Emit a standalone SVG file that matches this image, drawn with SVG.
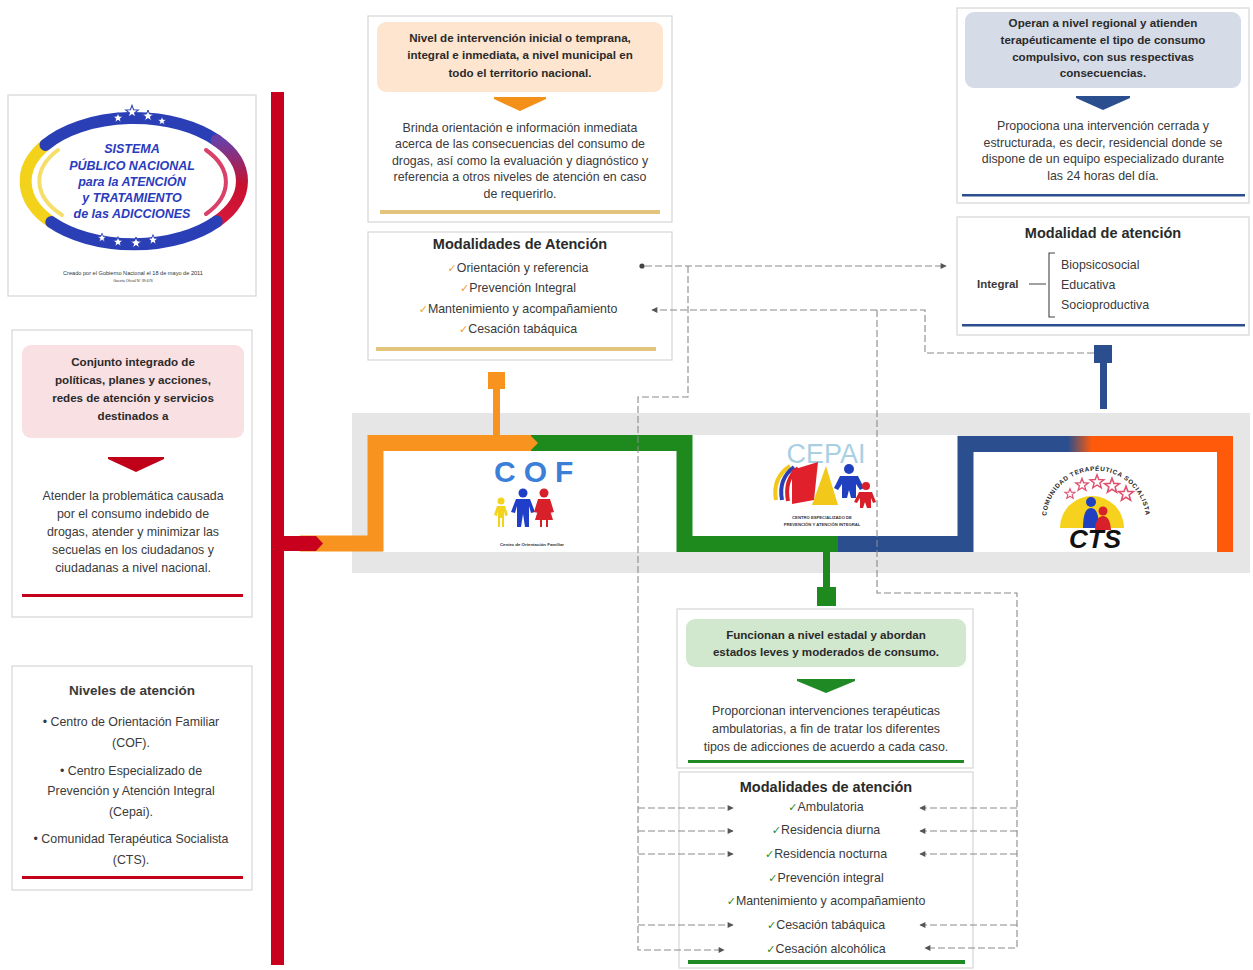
<svg xmlns="http://www.w3.org/2000/svg" width="1253" height="970" viewBox="0 0 1253 970">
<defs>
<style>
.card{fill:#fff;stroke:#d6d6d6;stroke-width:1.2}
.t{font-family:"Liberation Sans",Arial,sans-serif;fill:#3a3a3a;text-anchor:middle}
.ts{text-anchor:start}
.h{font-size:11.6px;font-weight:bold;fill:#2a2a2a}
.b{font-size:12.4px}
.ti{font-size:14.5px;font-weight:bold;fill:#2a2a2a}
.it{font-size:12.4px}
.ck{font-family:"DejaVu Sans",sans-serif;font-size:11px}
.pipe{fill:none;stroke-width:16;stroke-linejoin:miter;stroke-linecap:butt}
.dash{fill:none;stroke:#8a8a8a;stroke-width:1.1;stroke-dasharray:7 3}
.logo{font-family:"Liberation Sans",Arial,sans-serif;font-weight:bold;font-style:italic;font-size:12.5px;fill:#2a3bbd;text-anchor:middle}
.tiny{font-family:"Liberation Sans",Arial,sans-serif;fill:#333;text-anchor:middle}
</style>
<marker id="arr" viewBox="0 0 10 10" refX="9" refY="5" markerWidth="7" markerHeight="6" orient="auto" markerUnits="userSpaceOnUse">
<path d="M0,0 L10,5 L0,10 Z" fill="#555"/>
</marker>
<linearGradient id="gr" x1="0" y1="0" x2="0" y2="1">
<stop offset="0" stop-color="#6a3fa5"/>
<stop offset="0.55" stop-color="#c8102e"/>
<stop offset="1" stop-color="#d4183c"/>
</linearGradient>
<linearGradient id="bo" x1="0" y1="0" x2="1" y2="0">
<stop offset="0" stop-color="#2B4F8E"/>
<stop offset="1" stop-color="#FF5A0A"/>
</linearGradient>
<path id="star" d="M0,-6 L1.47,-2.02 L5.71,-1.85 L2.38,0.77 L3.53,4.85 L0,2.5 L-3.53,4.85 L-2.38,0.77 L-5.71,-1.85 L-1.47,-2.02 Z"/>
<path id="arc" d="M 1046.4 527 A 50 50 0 1 1 1145.6 527"/>
</defs>
<rect width="1253" height="970" fill="#ffffff"/>

<!-- Logo -->
<g id="logo-sistema">
<rect class="card" x="8" y="95" width="248" height="201"/>
<g fill="none" stroke-linecap="round">
<path d="M 51.3 222.1 A 108 63 0 0 1 45.5 144.9" stroke="#F2D21B" stroke-width="12"/>
<path d="M 45.5 144.9 A 108 63 0 0 1 216.7 140.5" stroke="#2a3fb5" stroke-width="12"/>
<path d="M 216.7 140.5 A 108 63 0 0 1 216.7 221.5" stroke="url(#gr)" stroke-width="12"/>
<path d="M 216.7 221.5 A 108 63 0 0 1 51.3 222.1" stroke="#2a3fb5" stroke-width="12"/>
<path d="M 62 215 A 94 52 0 0 1 58 150" stroke="#F5DF6A" stroke-width="4"/>
<path d="M 206 150 A 94 52 0 0 1 206 214" stroke="#d9406a" stroke-width="4"/>
</g>
<g fill="#ffffff" stroke="#2a3fb5" stroke-width="1">
<use href="#star" transform="translate(118,118) scale(0.9)"/>
<use href="#star" transform="translate(132,112) scale(1.1)"/>
<use href="#star" transform="translate(148,116)"/>
<use href="#star" transform="translate(162,121) scale(0.8)"/>
<use href="#star" transform="translate(102,238) scale(0.8)"/>
<use href="#star" transform="translate(118,242) scale(0.9)"/>
<use href="#star" transform="translate(136,243)"/>
<use href="#star" transform="translate(153,240) scale(0.9)"/>
</g>
<text class="logo" x="132" y="153">SISTEMA</text>
<text class="logo" x="132" y="170">PÚBLICO NACIONAL</text>
<text class="logo" x="132" y="186">para la ATENCIÓN</text>
<text class="logo" x="132" y="202">y TRATAMIENTO</text>
<text class="logo" x="132" y="218">de las ADICCIONES</text>
<text class="tiny" x="133" y="275" font-size="5.6">Creado por el Gobierno Nacional el 18 de mayo de 2011</text>
<text class="tiny" x="133" y="282" font-size="3.6">Gaceta Oficial N° 39.676</text>
</g>

<!-- Backbone -->
<g id="backbone">
<rect x="271" y="92" width="13" height="873" fill="#C8001E"/>
</g>

<!-- Definition -->
<g id="definicion">
<rect class="card" x="12" y="330" width="240" height="287"/>
<rect x="22" y="345" width="222" height="93" rx="9" fill="#F8E0E3"/>
<text class="t h" x="133" y="366">Conjunto integrado de</text>
<text class="t h" x="133" y="384">políticas, planes y acciones,</text>
<text class="t h" x="133" y="402">redes de atención y servicios</text>
<text class="t h" x="133" y="420">destinados a</text>
<polygon points="108,457 164,457 164,459 136,472 108,459" fill="#C00018"/>
<text class="t b" x="133" y="500">Atender la problemática causada</text>
<text class="t b" x="133" y="518">por el consumo indebido de</text>
<text class="t b" x="133" y="536">drogas, atender y minimizar las</text>
<text class="t b" x="133" y="554">secuelas en los ciudadanos y</text>
<text class="t b" x="133" y="572">ciudadanas a nivel nacional.</text>
<rect x="22" y="594" width="221" height="3" fill="#C4001A"/>
</g>

<!-- Niveles -->
<g id="niveles">
<rect class="card" x="12" y="666" width="240" height="224"/>
<text class="t" x="132" y="695" font-size="13.5" font-weight="bold" fill="#2a2a2a">Niveles de atención</text>
<text class="t b" x="131" y="726">• Centro de Orientación Familiar</text>
<text class="t b" x="131" y="747">(COF).</text>
<text class="t b" x="131" y="775">• Centro Especializado de</text>
<text class="t b" x="131" y="795">Prevención y Atención Integral</text>
<text class="t b" x="131" y="816">(Cepai).</text>
<text class="t b" x="131" y="843">• Comunidad Terapéutica Socialista</text>
<text class="t b" x="131" y="864">(CTS).</text>
<rect x="22" y="876" width="221" height="3" fill="#C4001A"/>
</g>

<!-- COF description -->
<g id="cof-descripcion">
<rect class="card" x="368" y="16" width="304" height="206"/>
<rect x="377" y="22" width="286" height="70" rx="9" fill="#FDE5CF"/>
<text class="t h" x="520" y="42">Nivel de intervención inicial o temprana,</text>
<text class="t h" x="520" y="59">integral e inmediata, a nivel municipal en</text>
<text class="t h" x="520" y="77">todo el territorio nacional.</text>
<polygon points="494,97 546,97 546,99 520,111 494,99" fill="#F39019"/>
<text class="t b" x="520" y="132">Brinda orientación e información inmediata</text>
<text class="t b" x="520" y="148">acerca de las consecuencias del consumo de</text>
<text class="t b" x="520" y="165">drogas, así como la evaluación y diagnóstico y</text>
<text class="t b" x="520" y="181">referencia a otros niveles de atención en caso</text>
<text class="t b" x="520" y="198">de requerirlo.</text>
<rect x="380" y="210" width="280" height="4" fill="#E3C47C"/>
</g>

<!-- COF modalidades -->
<g id="cof-modalidades">
<rect class="card" x="368" y="232" width="304" height="128"/>
<text class="t ti" x="520" y="249">Modalidades de Atención</text>
<text class="t it" x="518" y="272"><tspan class="ck" fill="#F0A030">✓</tspan>Orientación y referencia</text>
<text class="t it" x="518" y="292"><tspan class="ck" fill="#F0A030">✓</tspan>Prevención Integral</text>
<text class="t it" x="518" y="313"><tspan class="ck" fill="#F0A030">✓</tspan>Mantenimiento y acompañamiento</text>
<text class="t it" x="518" y="333"><tspan class="ck" fill="#F0A030">✓</tspan>Cesación tabáquica</text>
<rect x="376" y="347" width="280" height="4" fill="#E3C47C"/>
</g>

<!-- CTS description -->
<g id="cts-descripcion">
<rect class="card" x="957" y="8" width="292" height="195"/>
<rect x="965" y="12" width="276" height="76" rx="9" fill="#D5DBE7"/>
<text class="t h" x="1103" y="27">Operan a nivel regional y atienden</text>
<text class="t h" x="1103" y="44">terapéuticamente el tipo de consumo</text>
<text class="t h" x="1103" y="61">compulsivo, con sus respectivas</text>
<text class="t h" x="1103" y="77">consecuencias.</text>
<polygon points="1076,96 1130,96 1130,98 1103,110 1076,98" fill="#2B4F8E"/>
<text class="t b" x="1103" y="130">Propociona una intervención cerrada y</text>
<text class="t b" x="1103" y="147">estructurada, es decir, residencial donde se</text>
<text class="t b" x="1103" y="163">dispone de un equipo especializado durante</text>
<text class="t b" x="1103" y="180">las 24 horas del día.</text>
<rect x="962" y="194" width="283" height="2.5" fill="#2B4F8E"/>
</g>

<!-- CTS modalidad -->
<g id="cts-modalidad">
<rect class="card" x="957" y="217" width="292" height="118"/>
<text class="t ti" x="1103" y="238">Modalidad de atención</text>
<text class="t ts" x="977" y="288" font-size="11.5" font-weight="bold" fill="#333">Integral</text>
<path d="M 1029 284 H 1046 M 1055 253 H 1049 V 317 H 1055" fill="none" stroke="#444" stroke-width="1.1"/>
<text class="t it ts" x="1061" y="269">Biopsicosocial</text>
<text class="t it ts" x="1061" y="289">Educativa</text>
<text class="t it ts" x="1061" y="309">Socioproductiva</text>
<rect x="962" y="324" width="283" height="2.5" fill="#2B4F8E"/>
</g>

<!-- Central band with logos -->
<g id="banda">
<rect x="352" y="413" width="898" height="160" fill="#E6E6E6"/>
<rect x="383" y="451" width="294" height="101" fill="#ffffff"/>
<rect x="692" y="435" width="266" height="101" fill="#ffffff"/>
<rect x="973" y="452" width="244" height="100" fill="#ffffff"/>
</g>

<g id="cof-logo">
<text x="494" y="482" font-family="Liberation Sans, Arial, sans-serif" font-weight="bold" font-size="30" letter-spacing="8" fill="#3b7fd9">COF</text>
<circle cx="501" cy="501" r="3.5" fill="#F4D31C"/>
<path d="M 497 506 H 505 L 508 515 L 505 516 L 504 511 V 527 H 502 V 518 H 500 V 527 H 498 V 511 L 497 516 L 494 515 Z" fill="#F4D31C"/>
<circle cx="523" cy="493" r="4.5" fill="#1f3fc8"/>
<path d="M 516 499 H 530 L 535 512 L 531 513 L 529 506 V 527 H 525 L 523 514 L 521 527 H 517 V 506 L 515 513 L 511 512 Z" fill="#1f3fc8"/>
<circle cx="544" cy="493" r="4.5" fill="#d8202a"/>
<path d="M 538 499 H 550 L 554 512 L 550 513 L 549 507 L 553 520 H 548 V 527 H 546 V 520 H 542 V 527 H 540 V 520 H 535 L 539 507 L 538 513 L 534 512 Z" fill="#d8202a"/>
<text class="tiny" x="532" y="546" font-size="4.4" font-weight="bold">Centro de Orientación Familiar</text>
</g>

<g id="cepai-logo">
<text x="826" y="463" font-family="Liberation Sans, Arial, sans-serif" font-size="27" fill="#a9d0e2" text-anchor="middle">CEPAI</text>
<path d="M 790 466 Q 772 478 776 500" fill="none" stroke="#F2C81A" stroke-width="4"/>
<path d="M 794 467 Q 778 479 782 500" fill="none" stroke="#2a3fb5" stroke-width="4"/>
<path d="M 798 468 Q 784 480 788 501" fill="none" stroke="#d8202a" stroke-width="4"/>
<polygon points="792,470 818,462 814,500 792,504" fill="#e0202a"/>
<polygon points="826,466 838,505 812,505" fill="#F2C81A"/>
<circle cx="849" cy="469" r="5" fill="#2040c0"/>
<path d="M 840 476 H 858 L 864 488 L 860 490 L 856 484 V 498 H 851 L 849 490 L 847 498 H 842 V 484 L 838 490 L 834 488 Z" fill="#2040c0"/>
<circle cx="866" cy="486" r="4" fill="#d8202a"/>
<path d="M 859 492 H 872 L 876 502 L 873 503 L 871 498 V 508 H 867 L 865 502 L 863 508 H 860 V 498 L 857 503 L 854 502 Z" fill="#d8202a"/>
<text class="tiny" x="822" y="519" font-size="4.2" font-weight="bold">CENTRO ESPECIALIZADO DE</text>
<text class="tiny" x="822" y="526" font-size="4.2" font-weight="bold">PREVENCIÓN Y ATENCIÓN INTEGRAL</text>
</g>

<g id="cts-logo">
<text font-family="Liberation Sans, Arial, sans-serif" font-size="6.3" font-weight="bold" letter-spacing="0.7" fill="#222"><textPath href="#arc" startOffset="50%" text-anchor="middle">COMUNIDAD TERAPÉUTICA SOCIALISTA</textPath></text>
<path d="M 1060 528 A 32 32 0 0 1 1124 528 Z" fill="#F6D21E"/>
<g fill="none" stroke="#e0506e" stroke-width="1.2">
<use href="#star" transform="translate(1070,494) scale(0.9)"/>
<use href="#star" transform="translate(1082,485) scale(1.1)"/>
<use href="#star" transform="translate(1097,482) scale(1.2)"/>
<use href="#star" transform="translate(1112,486) scale(1.3)"/>
<use href="#star" transform="translate(1126,494) scale(1.3)"/>
</g>
<circle cx="1091" cy="502" r="5" fill="#2040c0"/>
<path d="M 1083 528 Q 1083 508 1091 508 Q 1099 508 1099 528 Z" fill="#2040c0"/>
<circle cx="1103" cy="511" r="4.5" fill="#d8202a"/>
<path d="M 1095 530 Q 1096 516 1103 516 Q 1110 516 1111 530 Z" fill="#d8202a"/>
<text x="1095" y="548" font-family="Liberation Sans, Arial, sans-serif" font-size="26" font-weight="bold" font-style="italic" fill="#111" text-anchor="middle">CTS</text>
</g>

<!-- Pipes -->
<g id="pipes">
<path class="pipe" stroke="#1E8A1E" d="M 531 443 H 684.5 V 544 H 840"/>
<path class="pipe" stroke="#F7931E" d="M 300 543.5 H 375.5 V 443 H 531"/>
<polygon points="530,435 538,443 530,451" fill="#F7931E"/>
<path class="pipe" stroke="#2B4F8E" d="M 838 544 H 965.5 V 444 H 1070"/>
<path class="pipe" stroke="#FF5A0A" d="M 1090 444 H 1225 V 552"/>
<rect x="1068" y="436" width="24" height="16" fill="url(#bo)"/>
<polygon points="284,536 316,536 323,543.5 316,551 284,551" fill="#C8001E"/>
<rect x="493" y="386" width="7" height="50" fill="#F7931E"/>
<rect x="488" y="372" width="17" height="17" fill="#F7931E"/>
<rect x="1100" y="361" width="7" height="48" fill="#2B4F8E"/>
<rect x="1094" y="345" width="18" height="18" fill="#2B4F8E"/>
<rect x="823" y="551" width="7" height="38" fill="#1E8A1E"/>
<rect x="817" y="587" width="19" height="19" fill="#1E8A1E"/>
</g>

<!-- CEPAI description -->
<g id="cepai-descripcion">
<rect class="card" x="677" y="609" width="296" height="159"/>
<rect x="686" y="619" width="280" height="48" rx="9" fill="#D1E7CE"/>
<text class="t h" x="826" y="639">Funcionan a nivel estadal y abordan</text>
<text class="t h" x="826" y="656">estados leves y moderados de consumo.</text>
<polygon points="797,679 855,679 855,681 826,693 797,681" fill="#1F8A24"/>
<text class="t b" x="826" y="715">Proporcionan intervenciones terapéuticas</text>
<text class="t b" x="826" y="733">ambulatorias, a fin de tratar los diferentes</text>
<text class="t b" x="826" y="751">tipos de adicciones de acuerdo a cada caso.</text>
<rect x="688" y="760" width="276" height="3" fill="#1F8A24"/>
</g>

<!-- CEPAI modalidades -->
<g id="cepai-modalidades">
<rect class="card" x="679" y="772" width="294" height="196"/>
<text class="t ti" x="826" y="792">Modalidades de atención</text>
<text class="t it" x="826" y="811"><tspan class="ck" fill="#2a8a2a">✓</tspan>Ambulatoria</text>
<text class="t it" x="826" y="834"><tspan class="ck" fill="#2a8a2a">✓</tspan>Residencia diurna</text>
<text class="t it" x="826" y="858"><tspan class="ck" fill="#2a8a2a">✓</tspan>Residencia nocturna</text>
<text class="t it" x="826" y="882"><tspan class="ck" fill="#2a8a2a">✓</tspan>Prevención integral</text>
<text class="t it" x="826" y="905"><tspan class="ck" fill="#2a8a2a">✓</tspan>Mantenimiento y acompañamiento</text>
<text class="t it" x="826" y="929"><tspan class="ck" fill="#2a8a2a">✓</tspan>Cesación tabáquica</text>
<text class="t it" x="826" y="953"><tspan class="ck" fill="#2a8a2a">✓</tspan>Cesación alcohólica</text>
<rect x="688" y="960" width="277" height="4" fill="#1F8A24"/>
</g>

<!-- Connectors -->
<g id="connectors">
<circle cx="642" cy="266" r="2.6" fill="#444"/>
<path class="dash" d="M 645 266 H 946" marker-end="url(#arr)"/>
<path class="dash" d="M 688 266 V 397 H 638 V 950 H 724" marker-end="url(#arr)"/>
<path class="dash" d="M 638 808 H 733" marker-end="url(#arr)"/>
<path class="dash" d="M 638 831 H 733" marker-end="url(#arr)"/>
<path class="dash" d="M 638 854 H 733" marker-end="url(#arr)"/>
<path class="dash" d="M 638 925 H 733" marker-end="url(#arr)"/>
<path class="dash" d="M 1094 353 H 925 V 310 H 652" marker-end="url(#arr)"/>
<path class="dash" d="M 877 310 V 593 H 1017 V 948 H 925" marker-end="url(#arr)"/>
<path class="dash" d="M 1017 808 H 920" marker-end="url(#arr)"/>
<path class="dash" d="M 1017 831 H 920" marker-end="url(#arr)"/>
<path class="dash" d="M 1017 854 H 920" marker-end="url(#arr)"/>
<path class="dash" d="M 1017 925 H 920" marker-end="url(#arr)"/>
</g>
</svg>
